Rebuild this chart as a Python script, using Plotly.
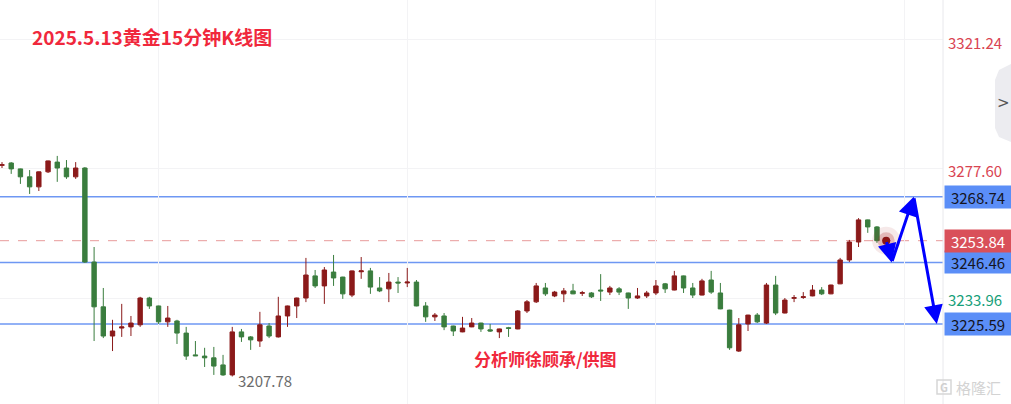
import plotly.graph_objects as go

# ---------------- data ----------------
opens = [3279.4, 3280.2, 3278.2, 3275.5, 3272.1, 3277.2, 3280.5, 3278.5, 3275.5, 3278.5,
         3246.6, 3231.4, 3221.5, 3224.2, 3224.6, 3225.3, 3234.4, 3231.7, 3226.3, 3226.6,
         3222.5, 3215.1, 3214.7, 3214.1, 3211.7, 3208.3, 3222.9, 3221.2, 3219.8, 3224.9,
         3221.2, 3228.3, 3231.7, 3234.4, 3241.9, 3238.5, 3243.2, 3241.5, 3235.4, 3243.3,
         3243.6, 3237.8, 3237.5, 3239.8, 3239.5, 3239.8, 3231.7, 3228.0, 3228.3, 3224.9,
         3222.9, 3224.6, 3225.9, 3223.6, 3222.9, 3224.3, 3223.9, 3230.0, 3233.1, 3237.8,
         3235.1, 3235.8, 3236.8, 3236.0, 3236.1, 3237.1, 3236.4, 3237.5, 3236.1, 3234.4,
         3235.1, 3236.1, 3239.2, 3237.1, 3241.9, 3237.8, 3235.4, 3240.5, 3236.1, 3230.3,
         3216.4, 3225.6, 3228.6, 3225.9, 3238.8, 3229.3, 3234.3, 3234.6, 3235.1, 3237.1,
         3235.8, 3239.2, 3247.3, 3253.4, 3260.9, 3258.5]
highs = [3280.5, 3280.5, 3278.3, 3277.8, 3277.3, 3281.0, 3282.6, 3281.2, 3280.5, 3278.8,
         3251.7, 3237.8, 3227.0, 3232.4, 3228.3, 3234.8, 3234.8, 3231.8, 3231.7, 3227.0,
         3224.6, 3219.8, 3217.5, 3217.8, 3215.1, 3224.6, 3223.9, 3221.5, 3229.7, 3225.9,
         3234.8, 3231.8, 3234.5, 3248.0, 3243.9, 3244.9, 3249.0, 3241.6, 3243.7, 3248.3,
         3244.6, 3241.5, 3242.9, 3241.5, 3244.6, 3240.5, 3233.0, 3229.3, 3229.3, 3225.0,
         3228.0, 3227.6, 3226.0, 3225.6, 3224.0, 3224.6, 3230.3, 3233.7, 3239.5, 3239.5,
         3236.8, 3237.8, 3239.2, 3236.8, 3236.4, 3242.5, 3238.5, 3238.1, 3236.2, 3237.8,
         3236.8, 3240.5, 3239.5, 3243.6, 3242.0, 3239.5, 3240.9, 3243.6, 3239.5, 3230.4,
         3227.6, 3228.7, 3229.3, 3239.5, 3241.9, 3234.4, 3235.4, 3236.4, 3238.8, 3238.1,
         3238.9, 3248.0, 3254.1, 3261.5, 3261.0, 3258.8]
lows = [3278.5, 3276.5, 3273.1, 3269.7, 3270.7, 3276.8, 3273.8, 3274.8, 3274.8, 3246.3,
        3219.8, 3220.8, 3216.4, 3221.2, 3221.5, 3224.6, 3230.7, 3225.6, 3224.6, 3218.8,
        3213.4, 3214.7, 3211.0, 3208.3, 3208.0, 3207.78, 3219.5, 3216.8, 3217.8, 3220.8,
        3221.0, 3224.6, 3227.6, 3233.0, 3237.8, 3232.4, 3238.5, 3234.1, 3234.7, 3240.9,
        3235.8, 3236.4, 3233.0, 3236.1, 3238.1, 3231.6, 3226.3, 3226.6, 3223.5, 3221.5,
        3222.8, 3224.5, 3222.9, 3222.9, 3220.8, 3221.2, 3223.8, 3229.3, 3232.7, 3235.1,
        3234.7, 3233.0, 3235.7, 3235.1, 3234.4, 3233.4, 3235.4, 3235.4, 3230.7, 3234.1,
        3234.4, 3235.4, 3236.1, 3237.0, 3236.1, 3234.4, 3235.3, 3235.8, 3230.6, 3216.8,
        3216.1, 3223.2, 3225.9, 3225.6, 3228.6, 3229.2, 3233.0, 3234.1, 3235.0, 3235.4,
        3235.7, 3239.1, 3246.6, 3251.7, 3256.5, 3253.1]
closes = [3279.6, 3278.2, 3275.5, 3272.1, 3277.2, 3280.9, 3278.5, 3275.5, 3278.5, 3246.6,
          3231.4, 3221.5, 3223.2, 3224.6, 3225.9, 3234.4, 3231.7, 3226.3, 3227.6, 3222.5,
          3214.7, 3214.8, 3214.1, 3211.3, 3208.3, 3222.9, 3221.2, 3220.2, 3225.3, 3221.5,
          3228.3, 3231.7, 3234.4, 3242.2, 3238.5, 3243.9, 3241.2, 3235.8, 3243.6, 3243.6,
          3238.1, 3236.8, 3239.8, 3239.5, 3239.8, 3231.7, 3228.0, 3228.6, 3224.6, 3223.2,
          3224.2, 3225.9, 3223.9, 3223.2, 3223.9, 3224.1, 3230.0, 3233.1, 3238.5, 3235.8,
          3236.4, 3236.8, 3235.8, 3236.2, 3234.8, 3236.8, 3237.8, 3236.4, 3234.4, 3235.1,
          3236.1, 3238.5, 3237.5, 3241.9, 3237.8, 3235.4, 3240.2, 3236.4, 3230.7, 3217.5,
          3225.3, 3228.6, 3226.3, 3238.8, 3229.3, 3233.7, 3234.5, 3234.8, 3237.1, 3235.8,
          3238.8, 3247.3, 3253.4, 3260.9, 3258.5, 3253.84]
bar_index = list(range(len(closes)))

level_lines = [3268.74, 3246.46, 3225.59]
last_price = 3253.84
low_price = 3207.78
axis_text_red = [3321.24, 3277.60]
axis_text_green = [3233.96]
arrow_x = [96, 96.6, 99.0, 101.5]
arrow_y = [3253.84, 3246.46, 3268.74, 3225.59]

title_text = "2025.5.13黄金15分钟K线图"
credit_text = "分析师徐顾承/供图"

# ---------------- figure ----------------
W, H = 1011, 404
R = 68
PW = W - R
FONT = "Noto Sans CJK SC"
RED_UP = "#8b1a1a"
GREEN_DN = "#3a7d3e"
BLUE = "#6e97f3"
BOX_BLUE = "#5b8ef7"


def px_x(px):
    return px / PW


def px_y(py):
    return 1 - py / H


fig = go.Figure()
fig.add_trace(go.Candlestick(
    x=bar_index, open=opens, high=highs, low=lows, close=closes,
    increasing=dict(line=dict(color=RED_UP, width=1), fillcolor=RED_UP),
    decreasing=dict(line=dict(color=GREEN_DN, width=1), fillcolor=GREEN_DN),
    whiskerwidth=0, showlegend=False, hoverinfo="skip",
))

# glow dot at the last price
fig.add_trace(go.Scatter(x=[len(closes)], y=[last_price], mode="markers",
                         marker=dict(size=28, color="rgba(170,40,40,0.10)"),
                         showlegend=False, hoverinfo="skip"))
fig.add_trace(go.Scatter(x=[len(closes)], y=[last_price], mode="markers",
                         marker=dict(size=17, color="rgba(170,40,40,0.25)"),
                         showlegend=False, hoverinfo="skip"))
fig.add_trace(go.Scatter(x=[len(closes)], y=[last_price], mode="markers",
                         marker=dict(size=8, color="#8b1515"),
                         showlegend=False, hoverinfo="skip"))

shapes = []
for lv in level_lines:
    shapes.append(dict(type="line", xref="paper", yref="y", x0=0, x1=1, y0=lv, y1=lv, layer="below",
                       line=dict(color=BLUE, width=1.5)))
shapes.append(dict(type="line", xref="paper", yref="y", x0=0, x1=1, y0=last_price, y1=last_price,
                   layer="below", line=dict(color="#e89a9a", width=1, dash="dash")))
# right axis border
shapes.append(dict(type="line", xref="paper", yref="paper", x0=1, x1=1, y0=0, y1=1,
                   line=dict(color="#e8e8ec", width=1)))
# side tab
shapes.append(dict(type="path", xref="paper", yref="paper",
                   path=(f"M {px_x(1011)},{px_y(64)} L {px_x(999)},{px_y(70)} L {px_x(995)},{px_y(80)} "
                         f"L {px_x(995)},{px_y(128)} L {px_x(999)},{px_y(137)} L {px_x(1011)},{px_y(142)} Z"),
                   fillcolor="#ececf0", line=dict(width=0)))
# watermark logo box
shapes.append(dict(type="rect", xref="paper", yref="paper",
                   x0=px_x(937), x1=px_x(951), y0=px_y(394), y1=px_y(380),
                   line=dict(color="#d6d6d6", width=1.5)))

ann = []
ann.append(dict(text=f"<b>{title_text}</b>", xref="paper", yref="paper", x=px_x(30), y=px_y(37),
                xanchor="left", yanchor="middle", showarrow=False,
                font=dict(family=FONT, size=19, color="#f0283c")))
ann.append(dict(text=f"<b>{credit_text}</b>", xref="paper", yref="paper", x=px_x(472), y=px_y(358),
                xanchor="left", yanchor="middle", showarrow=False,
                font=dict(family=FONT, size=17, color="#f0283c")))
ann.append(dict(text=f"{low_price:.2f}", xref="x", yref="paper", x=25.4, y=px_y(380),
                xanchor="left", yanchor="middle", showarrow=False,
                font=dict(family=FONT, size=15, color="#6b6b6b")))
# axis texts
for v in axis_text_red:
    ann.append(dict(text=f"{v:.2f}", xref="paper", yref="y", x=1, y=v, xanchor="left", yanchor="middle",
                    xshift=3, showarrow=False, font=dict(family=FONT, size=15, color="#d94452")))
for v in axis_text_green:
    ann.append(dict(text=f"{v:.2f}", xref="paper", yref="y", x=1, y=v, xanchor="left", yanchor="middle",
                    xshift=3, showarrow=False, font=dict(family=FONT, size=15, color="#17a07a")))
for v in level_lines:
    ann.append(dict(text=f"{v:.2f}", xref="paper", yref="y", x=1, y=v, xanchor="left", yanchor="middle",
                    xshift=1, showarrow=False, bgcolor=BOX_BLUE, width=64, height=20, align="center",
                    font=dict(family=FONT, size=15, color="#15151f")))
ann.append(dict(text=f"{last_price:.2f}", xref="paper", yref="y", x=1, y=last_price, xanchor="left",
                yanchor="middle", xshift=1, showarrow=False, bgcolor="#d9505a", width=64, height=20,
                align="center", font=dict(family=FONT, size=15, color="#ffffff")))
# tab chevron
ann.append(dict(text="&gt;", xref="paper", yref="paper", x=px_x(1003), y=px_y(103), showarrow=False,
                xanchor="center", yanchor="middle",
                font=dict(family="DejaVu Sans", size=15, color="#555555")))
# watermark
ann.append(dict(text="<b>G</b>", xref="paper", yref="paper", x=px_x(944), y=px_y(387), showarrow=False,
                xanchor="center", yanchor="middle",
                font=dict(family=FONT, size=11, color="#d0d0d0")))
ann.append(dict(text="格隆汇", xref="paper", yref="paper", x=px_x(954), y=px_y(387), xanchor="left",
                yanchor="middle", showarrow=False, font=dict(family=FONT, size=15, color="#d3d3d3")))
# arrows
for i in range(len(arrow_x) - 1):
    ann.append(dict(x=arrow_x[i + 1], y=arrow_y[i + 1], ax=arrow_x[i], ay=arrow_y[i],
                    xref="x", yref="y", axref="x", ayref="y", text="", showarrow=True,
                    arrowhead=2, arrowsize=1.25, arrowwidth=3, arrowcolor="#0000ff", standoff=0))

fig.update_layout(
    width=W, height=H, margin=dict(l=0, r=R, t=0, b=0),
    paper_bgcolor="white", plot_bgcolor="white",
    shapes=shapes, annotations=ann,
    xaxis=dict(range=[-0.217, 102.17], showticklabels=False, showgrid=True, gridcolor="#f3f3f5",
               tickvals=[17, 44, 71, 98], zeroline=False, rangeslider=dict(visible=False),
               fixedrange=True, showline=False),
    yaxis=dict(range=[3198.44, 3335.49], showticklabels=False, showgrid=True, gridcolor="#f3f3f5",
               tickvals=[3322.2, 3278.2, 3234.2], zeroline=False, side="right", fixedrange=True),
    boxgap=0.32,
    font=dict(family=FONT),
)

fig.write_html("out.html", config={"displayModeBar": False},
               post_script="document.body.style.margin='0';document.body.style.overflow='hidden';")
